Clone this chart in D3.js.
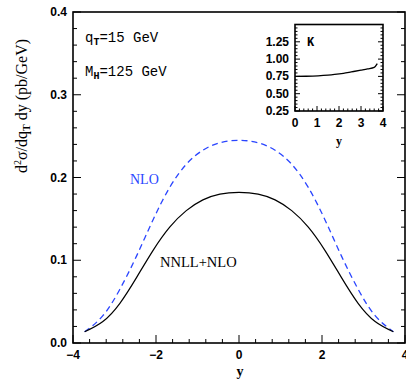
<!DOCTYPE html>
<html>
<head>
<meta charset="utf-8">
<script src="https://cdn.jsdelivr.net/npm/d3@7"></script>
<style>
  body { margin: 0; background: #fff; }
  svg { display: block; }
  .tick-lab { font-family: "Liberation Sans", Arial, sans-serif; font-weight: bold; font-size: 12px; }
</style>
</head>
<body>
<svg id="chart" width="406" height="381"></svg>
<script>
// rapidity grid and curves
const Y_POINTS = [-3.72, -3.28, -2.87, -2.47, -2.07, -1.67, -1.27, -0.87, -0.46, 0,
                  0.46, 0.87, 1.27, 1.67, 2.07, 2.47, 2.87, 3.28, 3.72];
const NNLL_NLO = [0.0136, 0.026, 0.048, 0.079, 0.112, 0.140, 0.160, 0.173, 0.180, 0.182,
                  0.180, 0.173, 0.160, 0.140, 0.112, 0.079, 0.048, 0.026, 0.0136];
const NLO = [0.0136, 0.033, 0.065, 0.105, 0.149, 0.188, 0.216, 0.233, 0.242, 0.245,
             0.242, 0.233, 0.216, 0.188, 0.149, 0.105, 0.065, 0.033, 0.0136];

// inset: K factor
const K_Y = [0, 0.5, 1.05, 1.5, 1.8, 2.2, 2.56, 3.0, 3.3, 3.6, 3.74];
const K_VAL = [0.75, 0.752, 0.758, 0.768, 0.778, 0.795, 0.815, 0.84, 0.858, 0.88, 0.935];

const X_TICKS = [-4, -2, 0, 2, 4];
const Y_TICKS = [0, 0.1, 0.2, 0.3, 0.4];
const INSET_X_TICKS = [0, 1, 2, 3, 4];
const INSET_Y_TICKS = [0.25, 0.5, 0.75, 1.0, 1.25];

const svg = d3.select('#chart');

// main plot
const x = d3.scaleLinear().domain([-4, 4]).range([73, 405]);
const y = d3.scaleLinear().domain([0, 0.4]).range([343, 12]);

function drawTicks(g, xs, ys, xMajor, xMinor, yMajor, yMinor, bigLen, smallLen) {
	const [x0, x1] = xs.range();
	const [y0, y1] = ys.range();
	const t = g.append('g').attr('stroke', '#000').attr('stroke-width', 1);
	xMinor.forEach(v => {
		const len = xMajor.some(m => Math.abs(m - v) < 1e-9) ? bigLen : smallLen;
		t.append('line').attr('x1', xs(v)).attr('x2', xs(v)).attr('y1', y0).attr('y2', y0 - len);
	});
	yMinor.forEach(v => {
		const len = yMajor.some(m => Math.abs(m - v) < 1e-9) ? bigLen : smallLen;
		t.append('line').attr('y1', ys(v)).attr('y2', ys(v)).attr('x1', x0).attr('x2', x0 + len);
		t.append('line').attr('y1', ys(v)).attr('y2', ys(v)).attr('x1', x1).attr('x2', x1 - len);
	});
}

drawTicks(svg, x, y, X_TICKS, d3.range(-4, 4.001, 0.4).map(v => +v.toFixed(2)),
	Y_TICKS, d3.range(0, 0.4001, 0.02).map(v => +v.toFixed(3)), 8, 4);

// tick labels
svg.append('g').selectAll('text')
	.data(X_TICKS)
	.enter().append('text')
	.attr('class', 'tick-lab')
	.attr('x', d => x(d))
	.attr('y', 359)
	.attr('text-anchor', 'middle')
	.text(d => d < 0 ? '\u2212' + Math.abs(d) : d);

svg.append('g').selectAll('text')
	.data(Y_TICKS)
	.enter().append('text')
	.attr('class', 'tick-lab')
	.attr('x', 67)
	.attr('y', d => y(d) + 4)
	.attr('text-anchor', 'end')
	.text(d => d.toFixed(1));

// curves
const line = d3.line()
	.x(d => x(d[0]))
	.y(d => y(d[1]))
	.curve(d3.curveNatural);

svg.append('path')
	.datum(Y_POINTS.map((v, i) => [v, NLO[i]]))
	.attr('d', line)
	.attr('fill', 'none')
	.attr('stroke', '#2a45ff')
	.attr('stroke-width', 1.3)
	.attr('stroke-dasharray', '6,4');

svg.append('path')
	.datum(Y_POINTS.map((v, i) => [v, NNLL_NLO[i]]))
	.attr('d', line)
	.attr('fill', 'none')
	.attr('stroke', '#000')
	.attr('stroke-width', 1.2);

// frame
svg.append('rect')
	.attr('x', 73).attr('y', 12)
	.attr('width', 332).attr('height', 331)
	.attr('fill', 'none').attr('stroke', '#000').attr('stroke-width', 1.6);

// labels
const mono = '"Liberation Mono", "Courier New", monospace';
const serif = '"Liberation Serif", "Times New Roman", serif';

const q = svg.append('text').attr('x', 85).attr('y', 42)
	.attr('font-family', mono).attr('font-size', 14);
q.append('tspan').text('q');
q.append('tspan').attr('dy', 3).attr('font-size', 10).attr('font-weight', 'bold').text('T');
q.append('tspan').attr('dy', -3).text('=15 GeV');

const m = svg.append('text').attr('x', 85).attr('y', 76)
	.attr('font-family', mono).attr('font-size', 14);
m.append('tspan').text('M');
m.append('tspan').attr('dy', 3).attr('font-size', 10).attr('font-weight', 'bold').text('H');
m.append('tspan').attr('dy', -3).text('=125 GeV');

svg.append('text').attr('x', 130).attr('y', 184)
	.attr('font-family', serif).attr('font-size', 14)
	.attr('fill', '#2a45ff').text('NLO');

svg.append('text').attr('x', 160).attr('y', 267)
	.attr('font-family', serif).attr('font-size', 14.5)
	.attr('fill', '#000').text('NNLL+NLO');

svg.append('text').attr('x', 240).attr('y', 376)
	.attr('font-family', serif).attr('font-size', 14).attr('font-weight', 'bold')
	.attr('text-anchor', 'middle').text('y');

const yt = svg.append('text')
	.attr('transform', 'translate(27,106) rotate(-90)')
	.attr('text-anchor', 'middle')
	.attr('font-family', serif).attr('font-size', 16);
yt.append('tspan').text('d');
yt.append('tspan').attr('dy', -6).attr('font-size', 10).text('2');
yt.append('tspan').attr('dy', 6).text('\u03c3/dq');
yt.append('tspan').attr('dy', 3).attr('font-size', 10).attr('font-weight', 'bold').text('T');
yt.append('tspan').attr('dy', -3).text(' dy (pb/GeV)');

// inset
const ix = d3.scaleLinear().domain([0, 4]).range([295, 383]);
const iy = d3.scaleLinear().domain([0.25, 1.5]).range([111, 24.5]);
const inset = svg.append('g');

drawTicks(inset, ix, iy, INSET_X_TICKS, d3.range(0, 4.001, 0.2).map(v => +v.toFixed(2)),
	INSET_Y_TICKS, d3.range(0.25, 1.5001, 0.05).map(v => +v.toFixed(3)), 5, 2.5);

inset.append('path')
	.datum(K_Y.map((v, i) => [v, K_VAL[i]]))
	.attr('d', d3.line().x(d => ix(d[0])).y(d => iy(d[1])).curve(d3.curveMonotoneX))
	.attr('fill', 'none')
	.attr('stroke', '#000')
	.attr('stroke-width', 1.3);

inset.append('rect')
	.attr('x', 295).attr('y', 24.5)
	.attr('width', 88).attr('height', 86.5)
	.attr('fill', 'none').attr('stroke', '#000').attr('stroke-width', 1.6);

inset.append('g').selectAll('text')
	.data(INSET_X_TICKS)
	.enter().append('text')
	.attr('class', 'tick-lab')
	.attr('x', d => ix(d))
	.attr('y', 127)
	.attr('text-anchor', 'middle')
	.text(d => d);

inset.append('g').selectAll('text')
	.data(INSET_Y_TICKS)
	.enter().append('text')
	.attr('class', 'tick-lab')
	.attr('x', 289)
	.attr('y', d => iy(d) + 4)
	.attr('text-anchor', 'end')
	.text(d => d.toFixed(2));

inset.append('text').attr('x', 307).attr('y', 46)
	.attr('font-family', mono).attr('font-size', 12).attr('font-weight', 'bold')
	.text('K');

inset.append('text').attr('x', 339).attr('y', 145)
	.attr('font-family', serif).attr('font-size', 12).attr('font-weight', 'bold')
	.attr('text-anchor', 'middle').text('y');
</script>
</body>
</html>
